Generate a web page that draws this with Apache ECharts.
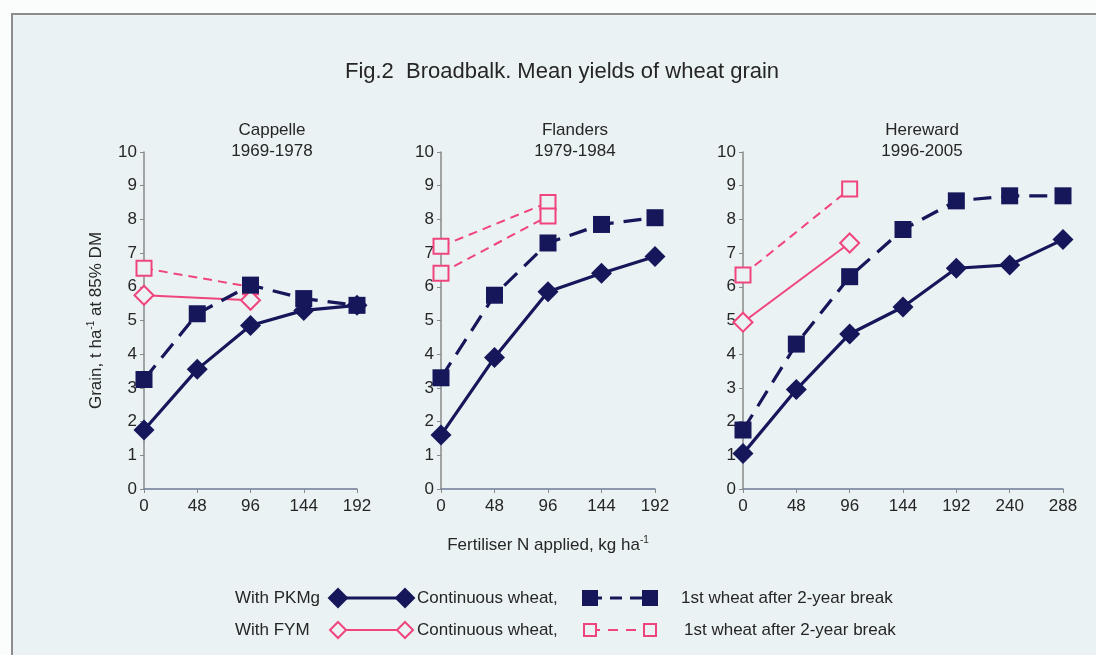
<!DOCTYPE html>
<html>
<head>
<meta charset="utf-8">
<script src="https://cdn.jsdelivr.net/npm/echarts@6/dist/echarts.min.js"></script>
<style>
  html, body { margin: 0; padding: 0; background: #fbfcfc; }
  #chart { width: 1096px; height: 655px; }
</style>
</head>
<body>
<div id="chart"></div>
<script>
// N rates (kg N/ha)
const nRates5 = [0, 48, 96, 144, 192];
const nRates7 = [0, 48, 96, 144, 192, 240, 288];
const nRatesFym = [0, 96];

// Cappelle 1969-1978
const cappPkCont = [1.75, 3.55, 4.85, 5.3, 5.45];
const cappPkFirst = [3.25, 5.2, 6.05, 5.65, 5.45];
const cappFymCont = [5.75, 5.6];
const cappFymFirst = [6.55, 6.0];

// Flanders 1979-1984
const flanPkCont = [1.6, 3.9, 5.85, 6.4, 6.9];
const flanPkFirst = [3.3, 5.75, 7.3, 7.85, 8.05];
const flanFymCont = [6.4, 8.1];
const flanFymFirst = [7.2, 8.5];

// Hereward 1996-2005
const herePkCont = [1.05, 2.95, 4.6, 5.4, 6.55, 6.65, 7.4];
const herePkFirst = [1.75, 4.3, 6.3, 7.7, 8.55, 8.7, 8.7];
const hereFymCont = [4.95, 7.3];
const hereFymFirst = [6.35, 8.9];

const panelTitles = ['Cappelle\n1969-1978', 'Flanders\n1979-1984', 'Hereward\n1996-2005'];
const xMax = [192, 192, 288];

const NAVY = '#16165a';
const PINK = '#f0457c';
const BG = '#ebf2f4';
const TXT = '#262626';
const FONT = '"Liberation Sans", Arial, sans-serif';

function pairs(xs, ys) { return xs.map((x, i) => [x, ys[i]]); }

var chartDom = document.getElementById('chart');
var myChart = echarts.init(chartDom);

// grid positions (px)
const grids = [
  { left: 144, top: 152, width: 213, height: 337 },
  { left: 441, top: 152, width: 214, height: 337 },
  { left: 743, top: 152, width: 320, height: 337 }
];

function mkSeries(idx, xs, ys, kind, dashed) {
  const s = {
    type: 'line',
    xAxisIndex: idx,
    yAxisIndex: idx,
    data: pairs(xs, ys),
    animation: false,
    silent: true
  };
  if (kind === 'navy') {
    s.lineStyle = { color: NAVY, width: 3.2, type: dashed ? [18, 10] : 'solid' };
    s.itemStyle = { color: NAVY };
    s.symbol = dashed ? 'rect' : 'diamond';
    s.symbolSize = dashed ? 17 : 21;
  } else {
    s.lineStyle = { color: PINK, width: 2, type: dashed ? [9, 6] : 'solid' };
    s.itemStyle = { color: BG, borderColor: PINK, borderWidth: 2 };
    s.symbol = dashed ? 'rect' : 'diamond';
    s.symbolSize = dashed ? 15 : 19;
  }
  return s;
}

const series = [
  mkSeries(0, nRatesFym, cappFymFirst, 'pink', true),
  mkSeries(0, nRatesFym, cappFymCont, 'pink', false),
  mkSeries(0, nRates5, cappPkCont, 'navy', false),
  mkSeries(0, nRates5, cappPkFirst, 'navy', true),

  mkSeries(1, nRatesFym, flanFymFirst, 'pink', true),
  mkSeries(1, nRatesFym, flanFymCont, 'pink', true),
  mkSeries(1, nRates5, flanPkCont, 'navy', false),
  mkSeries(1, nRates5, flanPkFirst, 'navy', true),

  mkSeries(2, nRatesFym, hereFymFirst, 'pink', true),
  mkSeries(2, nRatesFym, hereFymCont, 'pink', false),
  mkSeries(2, nRates7, herePkCont, 'navy', false),
  mkSeries(2, nRates7, herePkFirst, 'navy', true)
];

const supRich = {
  a: { fontSize: 17, fontFamily: FONT, color: TXT, lineHeight: 20 },
  s: { fontSize: 10, fontFamily: FONT, color: TXT, verticalAlign: 'top', lineHeight: 20 }
};

const xAxes = grids.map((g, i) => ({
  type: 'value',
  gridIndex: i,
  min: 0,
  max: xMax[i],
  interval: 48,
  axisLine: { lineStyle: { color: '#6f7898', width: 1.5 } },
  axisTick: { length: 4, lineStyle: { color: '#8a8a8a' } },
  axisLabel: { fontSize: 17, fontFamily: FONT, color: TXT, margin: 9 },
  splitLine: { show: false },
  name: i === 1 ? '{a|Fertiliser N applied, kg ha}{s|-1}' : '',
  nameLocation: 'middle',
  nameGap: 46,
  nameTextStyle: { rich: supRich }
}));

const yAxes = grids.map((g, i) => ({
  type: 'value',
  gridIndex: i,
  min: 0,
  max: 10,
  interval: 1,
  axisLine: { show: true, lineStyle: { color: '#8a8a8a', width: 1.5 } },
  axisTick: { show: true, length: 4, lineStyle: { color: '#8a8a8a' } },
  axisLabel: { fontSize: 17, fontFamily: FONT, color: TXT, margin: 7 },
  splitLine: { show: false },
  name: i === 0 ? '{a|Grain, t ha}{s|-1}{a| at 85% DM}' : '',
  nameLocation: 'middle',
  nameRotate: 90,
  nameGap: 38,
  nameTextStyle: { rich: supRich }
}));

const titles = [{
  text: 'Fig.2  Broadbalk. Mean yields of wheat grain',
  left: 557,
  top: 56,
  textAlign: 'center',
  textStyle: { fontSize: 22, fontWeight: 'normal', fontFamily: FONT, color: TXT }
}];
const titleX = [267, 570, 917];
panelTitles.forEach((t, i) => {
  titles.push({
    text: t,
    left: titleX[i],
    top: 115,
    textAlign: 'center',
    textStyle: { fontSize: 17, fontWeight: 'normal', fontFamily: FONT, color: TXT, lineHeight: 21 }
  });
});

// legend drawn by hand (matches the printed key)
function diamond(cx, cy, r, fill, stroke) {
  return {
    type: 'polygon', z: 10,
    shape: { points: [[cx, cy - r], [cx + r, cy], [cx, cy + r], [cx - r, cy]] },
    style: { fill: fill, stroke: stroke, lineWidth: 2 }
  };
}
function square(cx, cy, r, fill, stroke) {
  return {
    type: 'rect', z: 10,
    shape: { x: cx - r, y: cy - r, width: 2 * r, height: 2 * r },
    style: { fill: fill, stroke: stroke, lineWidth: 2 }
  };
}
function seg(x1, x2, y, color, w, dash) {
  return {
    type: 'line', z: 9,
    shape: { x1: x1, y1: y, x2: x2, y2: y },
    style: { stroke: color, lineWidth: w, lineDash: dash || null }
  };
}
function txt(x, y, s) {
  return {
    type: 'text', z: 10, x: x, y: y,
    style: { text: s, fontSize: 17, fontFamily: FONT, fill: TXT, verticalAlign: 'middle', textAlign: 'left' }
  };
}

const r1 = 598, r2 = 630;
const graphic = [
  {
    type: 'rect', z: -10, silent: true,
    shape: { x: 12, y: 14, width: 1200, height: 800 },
    style: { fill: BG, stroke: '#8c8c8c', lineWidth: 2 }
  },
  txt(235, r1, 'With PKMg'),
  seg(338, 405, r1, NAVY, 3),
  diamond(338, r1, 9, NAVY, NAVY),
  diamond(405, r1, 9, NAVY, NAVY),
  txt(417, r1, 'Continuous wheat,'),
  seg(590, 650, r1, NAVY, 3, [12, 8]),
  square(590, r1, 7, NAVY, NAVY),
  square(650, r1, 7, NAVY, NAVY),
  txt(681, r1, '1st wheat after 2-year break'),

  txt(235, r2, 'With FYM'),
  seg(338, 405, r2, PINK, 2),
  diamond(338, r2, 8, BG, PINK),
  diamond(405, r2, 8, BG, PINK),
  txt(417, r2, 'Continuous wheat,'),
  seg(590, 650, r2, PINK, 2, [10, 8]),
  square(590, r2, 6, BG, PINK),
  square(650, r2, 6, BG, PINK),
  txt(684, r2, '1st wheat after 2-year break')
];

var option = {
  backgroundColor: '#fbfcfc',
  animation: false,
  title: titles,
  grid: grids,
  xAxis: xAxes,
  yAxis: yAxes,
  series: series,
  graphic: graphic
};

option && myChart.setOption(option);
</script>
</body>
</html>
